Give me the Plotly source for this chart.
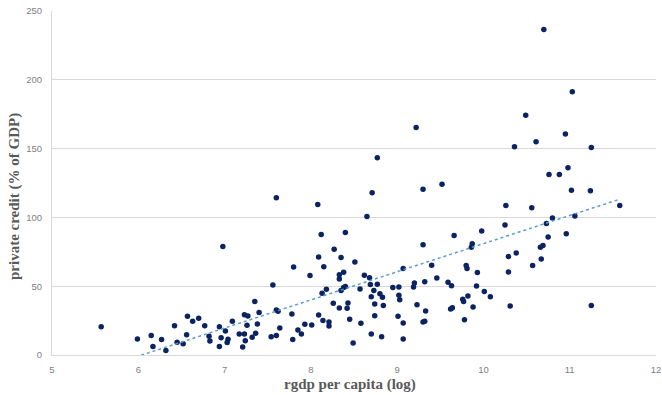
import numpy as np
import plotly.graph_objects as go

rgdp_log = [
    5.57, 5.99, 6.15, 6.17, 6.27, 6.32, 6.42, 6.45, 6.52, 6.56, 6.57, 6.63, 6.70, 6.77, 6.82, 6.83,
    6.94, 6.94, 6.96, 6.98, 7.01, 7.03, 7.04, 7.09, 7.17, 7.21, 7.23, 7.23, 7.24, 7.26, 7.27, 7.32,
    7.35, 7.36, 7.38, 7.40, 7.54, 7.56, 7.60, 7.60, 7.62, 7.64, 7.60, 7.78, 7.79, 7.80, 7.85, 7.89,
    7.93, 7.99, 8.01, 8.08, 8.09, 8.09, 8.12, 8.13, 8.14, 8.15, 8.18, 8.21, 8.21, 8.27, 8.35, 8.38,
    8.33, 8.33, 8.35, 8.38, 8.40, 8.40, 8.26, 8.33, 8.42, 8.43, 8.45, 8.49, 8.51, 8.57, 8.58, 8.62,
    8.65, 8.68, 8.70, 8.69, 8.70, 8.73, 8.74, 8.74, 8.77, 8.80, 8.82, 8.83, 8.84, 8.77, 8.71, 9.22,
    9.30, 9.52, 9.66, 9.30, 9.40, 9.80, 9.81, 9.07, 9.46, 9.59, 9.63, 9.32, 9.20, 9.19, 8.95, 9.02,
    9.02, 9.03, 9.82, 9.76, 9.77, 9.23, 9.64, 9.62, 9.33, 9.01, 9.78, 9.32, 9.30, 9.07, 9.07, 9.86,
    9.87, 9.88, 9.93, 9.92, 9.98, 10.01, 10.08, 10.25, 10.26, 10.29, 10.29, 10.31, 10.38, 10.56,
    10.57, 10.66, 10.69, 10.67, 10.73, 10.75, 10.80, 10.96, 11.06, 11.25, 11.58, 10.49, 10.36,
    10.61, 10.95, 10.98, 10.76, 10.88, 11.02, 11.03, 11.25, 11.24, 10.70,
]
private_credit = [
    20.6, 11.6, 14.1, 6.1, 11.2, 3.2, 21.3, 9.2, 8.2, 14.8, 28.1, 24.5, 26.7, 21.3, 13.6, 10.2,
    6.1, 20.6, 12.6, 78.8, 17.5, 9.0, 11.4, 24.5, 15.3, 5.8, 29.3, 15.3, 10.4, 21.6, 28.4, 12.9,
    38.8, 15.8, 22.5, 30.8, 13.3, 50.9, 14.1, 32.7, 31.8, 19.6, 114.2, 29.8, 11.2, 64.0, 18.2, 15.3,
    22.3, 57.7, 21.8, 109.3, 29.1, 71.3, 87.5, 44.8, 25.0, 64.2, 47.8, 24.0, 21.1, 76.8, 70.8, 60.1,
    58.4, 55.3, 46.8, 49.0, 49.7, 89.0, 37.6, 34.2, 34.0, 37.8, 26.0, 8.7, 67.6, 48.0, 23.0, 58.0,
    100.6, 56.2, 42.4, 51.2, 15.3, 46.8, 37.1, 28.6, 51.4, 44.6, 13.3, 42.0, 35.9, 143.3, 118.0, 165.3,
    120.5, 124.1, 86.8, 80.2, 65.2, 65.0, 62.8, 62.8, 56.0, 52.8, 50.4, 53.3, 52.4, 49.5, 49.0, 49.5,
    43.4, 40.2, 42.9, 40.5, 38.8, 36.6, 34.4, 33.5, 32.0, 28.1, 25.7, 24.5, 24.0, 23.3, 11.6, 78.3,
    80.9, 34.9, 59.9, 50.2, 90.2, 46.1, 42.4, 94.5, 108.6, 71.5, 60.4, 35.6, 74.2, 107.1,
    65.0, 78.3, 79.5, 69.8, 95.5, 85.8, 99.6, 88.2, 101.1, 35.9, 108.6, 174.3, 151.3,
    154.9, 160.7, 136.0, 131.1, 131.1, 119.8, 191.3, 150.8, 119.3, 236.6,
]

x_ticks = [5, 6, 7, 8, 9, 10, 11, 12]
y_ticks = [0, 50, 100, 150, 200, 250]
x_title = "rgdp per capita (log)"
y_title = "private credit (% of GDP)"

# Linear trendline (least squares) computed from the data
slope, intercept = np.polyfit(rgdp_log, private_credit, 1)
tx = np.array([min(rgdp_log), max(rgdp_log)])
ty = slope * tx + intercept

fig = go.Figure()
fig.add_trace(go.Scatter(
    x=rgdp_log, y=private_credit, mode="markers",
    marker=dict(color="#0B2361", size=5.5, line=dict(width=0)),
    showlegend=False, hoverinfo="x+y",
))
fig.add_trace(go.Scatter(
    x=tx, y=ty, mode="lines",
    line=dict(color="#5B9BD5", width=1.5, dash="dot"),
    showlegend=False, hoverinfo="skip",
))

tick_font = dict(family="Liberation Sans, Arial, sans-serif", size=9.5, color="#7F7F7F")
title_font = dict(family="Liberation Serif, Times New Roman, serif", size=15, color="#595959")

fig.update_layout(
    width=662, height=395,
    margin=dict(l=52, r=6, t=11, b=40, autoexpand=False),
    paper_bgcolor="white", plot_bgcolor="white",
    xaxis=dict(
        range=[5, 12], tickvals=x_ticks, ticktext=[str(v) for v in x_ticks],
        showgrid=False, zeroline=False, showline=True, linecolor="#D9D9D9", linewidth=1,
        tickfont=tick_font, ticks="", ticklabelstandoff=6, automargin=False,
    ),
    yaxis=dict(
        range=[0, 250], tickvals=y_ticks, ticktext=[str(v) for v in y_ticks],
        showgrid=True, gridcolor="#D9D9D9", gridwidth=1, zeroline=False,
        showline=True, linecolor="#D9D9D9", linewidth=1,
        tickfont=tick_font, ticks="", ticklabelstandoff=7, automargin=False,
    ),
    annotations=[
        dict(text="<b>" + x_title + "</b>", xref="paper", yref="paper",
             x=0.493, y=-0.087, xanchor="center", yanchor="middle",
             showarrow=False, font=title_font),
        dict(text="<b>" + y_title + "</b>", xref="paper", yref="paper",
             x=-0.063, y=0.462, xanchor="center", yanchor="middle", textangle=-90,
             showarrow=False, font=title_font),
    ],
)

# Remove the browser's default 8px body margin so the figure fills the window.
fig.write_html("out.html", config={"displayModeBar": False},
               post_script="document.body.style.margin='0';")
